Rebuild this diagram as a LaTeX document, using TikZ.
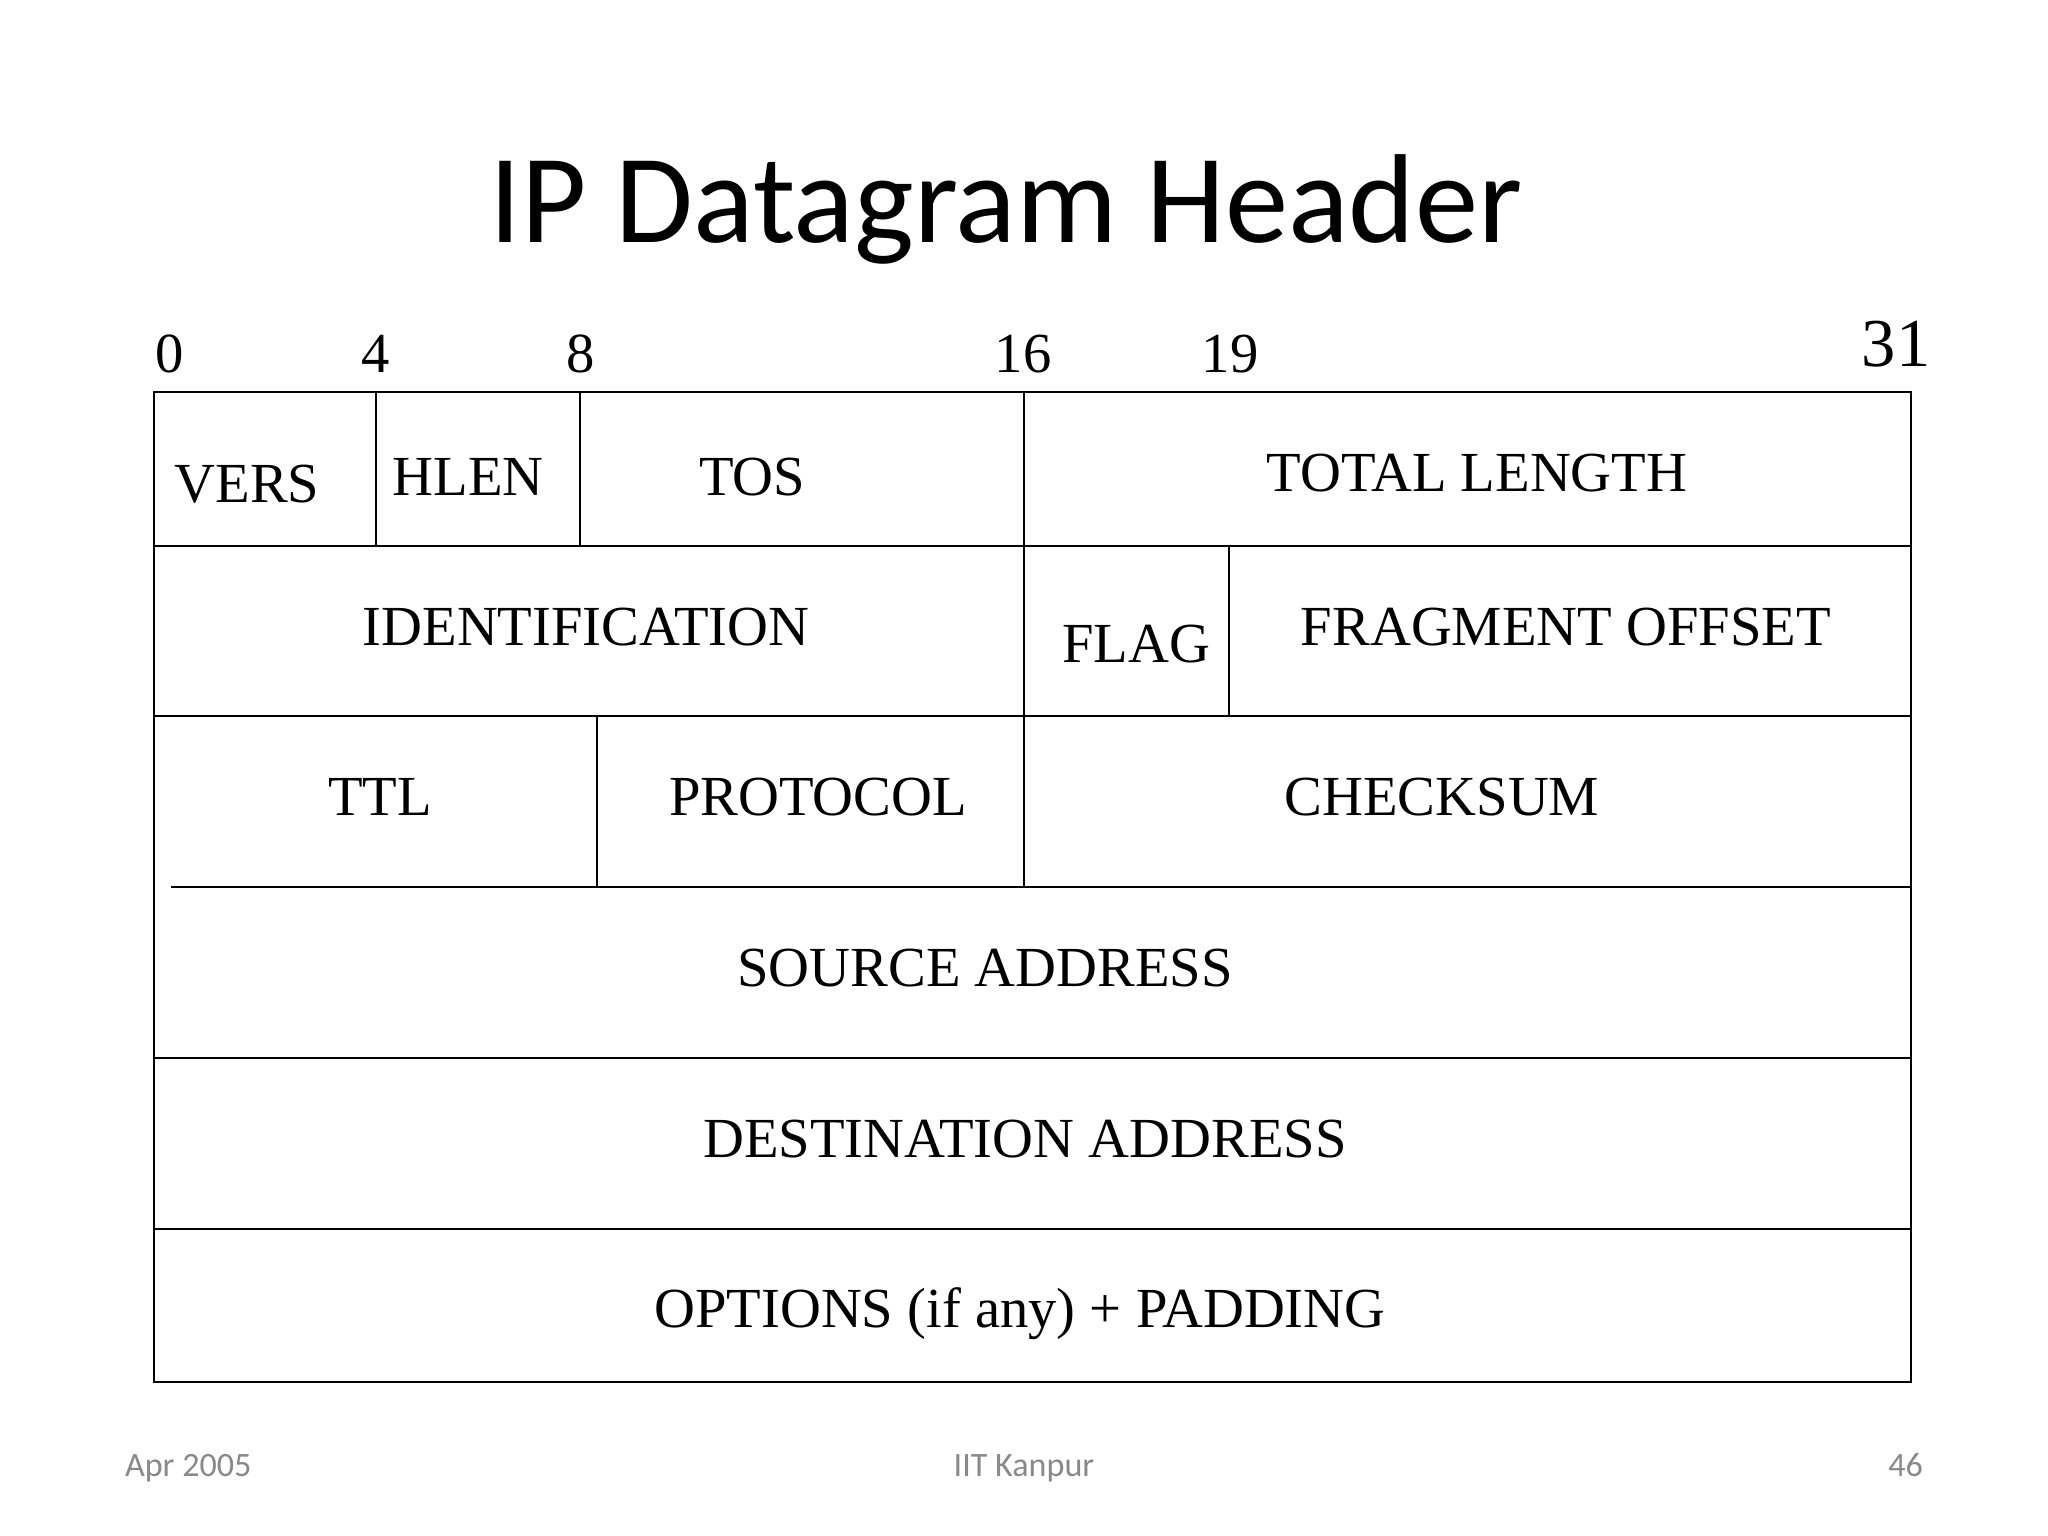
\documentclass[tikz,border=0pt]{standalone}
\usepackage{fontspec}
\setmainfont{Liberation Serif}
\newfontfamily\slidefont{Carlito}
\definecolor{footgray}{RGB}{137,137,137}

\begin{document}
\begin{tikzpicture}[x=0.01cm,y=-0.01cm,line width=0.6pt,
    field/.style={inner sep=0pt,text height=10.6pt,text depth=0pt,font=\fontsize{16.1}{19}\selectfont},
    bit/.style={field},
    foot/.style={inner sep=0pt,text height=6.2pt,text depth=0pt,text=footgray,font=\slidefont\fontsize{9.7}{12}\selectfont}]
    \useasboundingbox (0,0) rectangle (2048,1536);

    \node[inner sep=0pt,text height=23pt,text depth=0pt,font=\slidefont\fontsize{36}{40}\selectfont] (title) at (1006,202) {IP Datagram Header};

    % bit positions
    \node[bit] (b0) at (170,354) {0};
    \node[bit] (b4) at (376,354) {4};
    \node[bit] (b8) at (581,354) {8};
    \node[bit] (b16) at (1023,354) {16};
    \node[bit] (b19) at (1230,354) {19};
    \node[bit,text height=12.9pt,font=\fontsize{19.5}{22}\selectfont] (b31) at (1896,344) {31};

    % frame and rows
    \draw (154,392) rectangle (1911,1382);
    \draw (154,546) -- (1911,546);
    \draw (154,716) -- (1911,716);
    \draw (171,887) -- (1911,887);
    \draw (154,1058) -- (1911,1058);
    \draw (154,1229) -- (1911,1229);

    \draw (376,392) -- (376,546);
    \draw (580,392) -- (580,546);
    \draw (1024,392) -- (1024,887);
    \draw (1229,546) -- (1229,716);
    \draw (597,716) -- (597,887);

    % fields
    \node[field] (vers) at (247,484) {VERS};
    \node[field] (hlen) at (468,477) {HLEN};
    \node[field] (tos) at (752,477) {TOS};
    \node[field] (totlen) at (1477,473) {TOTAL LENGTH};
    \node[field] (ident) at (586,627) {IDENTIFICATION};
    \node[field] (flag) at (1136,644) {FLAG};
    \node[field] (fragoff) at (1566,627) {FRAGMENT OFFSET};
    \node[field] (ttl) at (380,797) {TTL};
    \node[field] (proto) at (818,797) {PROTOCOL};
    \node[field] (cksum) at (1442,797) {CHECKSUM};
    \node[field] (srcaddr) at (985,968) {SOURCE ADDRESS};
    \node[field] (dstaddr) at (1025,1139) {DESTINATION ADDRESS};
    \node[field] (options) at (1020,1309) {OPTIONS (if any) + PADDING};

    % footer
    \node[foot,anchor=west] (date) at (124,1466) {Apr 2005};
    \node[foot] (place) at (1024,1466) {IIT Kanpur};
    \node[foot,anchor=east] (page) at (1924,1466) {46};
\end{tikzpicture}
\end{document}
